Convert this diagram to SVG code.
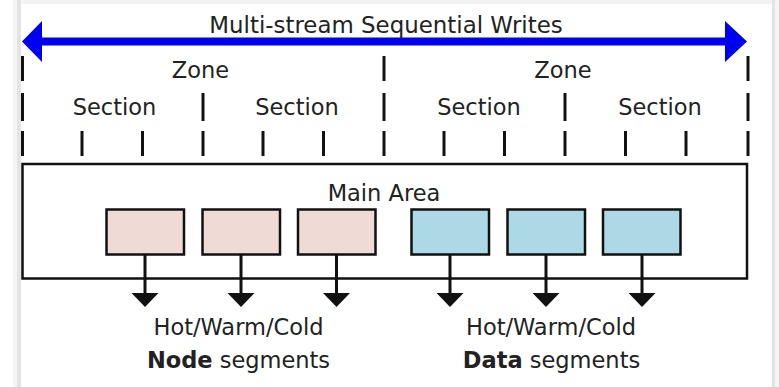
<svg xmlns="http://www.w3.org/2000/svg" width="779" height="387" viewBox="0 0 779 387">
<style>
.t{font-family:"DejaVu Sans","Liberation Sans",sans-serif;font-size:22.5px;fill:#222;text-anchor:middle}
.b{font-weight:bold}
.tick{stroke:#111;stroke-width:3}
.box{stroke:#111;stroke-width:2.5}
.pink{fill:#f0dad6}
.blue{fill:#add8e6}
.conn{stroke:#111;stroke-width:3;fill:none}
.head{fill:#111}
</style>
<rect x="0" y="0" width="779" height="387" fill="#fff"/>
<g id="page-frame">
<rect x="13" y="0" width="8" height="387" fill="#ececec" opacity="0.5"/>
<rect x="17" y="0" width="4" height="387" fill="#d8d8d8" opacity="0.6"/>
<rect x="772" y="0" width="7" height="387" fill="#ececec" opacity="0.5"/>
<rect x="772" y="0" width="3" height="387" fill="#d8d8d8" opacity="0.6"/>
<rect x="21" y="0" width="751" height="4" fill="#f2f2f2"/>
<rect x="21" y="4" width="751" height="383" fill="#fff"/>
</g>
<g id="title">
<line x1="38" y1="41.5" x2="729" y2="41.5" stroke="#0000f0" stroke-width="8"/>
<polygon points="22,41.5 42,21 42,62" fill="#0000f0"/>
<polygon points="747,41.5 725,21 725,62" fill="#0000f0"/>
<text class="t" x="386" y="33" style="font-size:22.9px">Multi-stream Sequential Writes</text>
</g>
<g id="scale">
<g class="tick">
<line x1="22.5" y1="56" x2="22.5" y2="81"/><line x1="22.5" y1="93" x2="22.5" y2="121"/><line x1="22.5" y1="131" x2="22.5" y2="156"/>
<line x1="384" y1="56" x2="384" y2="81"/><line x1="384" y1="93" x2="384" y2="121"/><line x1="384" y1="131" x2="384" y2="156"/>
<line x1="748" y1="56" x2="748" y2="81"/><line x1="748" y1="93" x2="748" y2="121"/><line x1="748" y1="131" x2="748" y2="156"/>
<line x1="203" y1="93" x2="203" y2="121"/><line x1="203" y1="131" x2="203" y2="156"/>
<line x1="565" y1="93" x2="565" y2="121"/><line x1="565" y1="131" x2="565" y2="156"/>
<line x1="82" y1="131" x2="82" y2="156"/><line x1="142.5" y1="131" x2="142.5" y2="156"/>
<line x1="263" y1="131" x2="263" y2="156"/><line x1="323.5" y1="131" x2="323.5" y2="156"/>
<line x1="444" y1="131" x2="444" y2="156"/><line x1="504.5" y1="131" x2="504.5" y2="156"/>
<line x1="625.5" y1="131" x2="625.5" y2="156"/><line x1="686" y1="131" x2="686" y2="156"/>
</g>
<text class="t" x="200.5" y="78">Zone</text>
<text class="t" x="563" y="78">Zone</text>
<text class="t" x="114.5" y="115">Section</text>
<text class="t" x="297" y="115">Section</text>
<text class="t" x="479" y="115">Section</text>
<text class="t" x="660" y="115">Section</text>
</g>
<g id="main-area">
<rect x="22.5" y="164" width="724.5" height="114.5" fill="none" stroke="#111" stroke-width="2.5"/>
<text class="t" x="384" y="201">Main Area</text>
</g>
<g id="node-seg-1"><rect class="box pink" x="106.5" y="209.5" width="77.5" height="45"/></g>
<g id="node-seg-2"><rect class="box pink" x="202.5" y="209.5" width="77.5" height="45"/></g>
<g id="node-seg-3"><rect class="box pink" x="298" y="209.5" width="77.5" height="45"/></g>
<g id="data-seg-1"><rect class="box blue" x="411.5" y="209.5" width="77.5" height="45"/></g>
<g id="data-seg-2"><rect class="box blue" x="507.5" y="209.5" width="77.5" height="45"/></g>
<g id="data-seg-3"><rect class="box blue" x="603" y="209.5" width="77.5" height="45"/></g>
<g id="connectors">
<line class="conn" x1="145" y1="254.5" x2="145" y2="294"/><polygon class="head" points="131.5,293 158.5,293 145,307"/>
<line class="conn" x1="241" y1="254.5" x2="241" y2="294"/><polygon class="head" points="227.5,293 254.5,293 241,307"/>
<line class="conn" x1="336.5" y1="254.5" x2="336.5" y2="294"/><polygon class="head" points="323,293 350,293 336.5,307"/>
<line class="conn" x1="450" y1="254.5" x2="450" y2="294"/><polygon class="head" points="436.5,293 463.5,293 450,307"/>
<line class="conn" x1="546" y1="254.5" x2="546" y2="294"/><polygon class="head" points="532.5,293 559.5,293 546,307"/>
<line class="conn" x1="642" y1="254.5" x2="642" y2="294"/><polygon class="head" points="628.5,293 655.5,293 642,307"/>
</g>
<g id="node-label">
<text class="t" x="238.5" y="335">Hot/Warm/Cold</text>
<text class="t" x="238.5" y="368"><tspan class="b">Node</tspan> segments</text>
</g>
<g id="data-label">
<text class="t" x="551" y="335">Hot/Warm/Cold</text>
<text class="t" x="551.5" y="368"><tspan class="b">Data</tspan> segments</text>
</g>
</svg>
